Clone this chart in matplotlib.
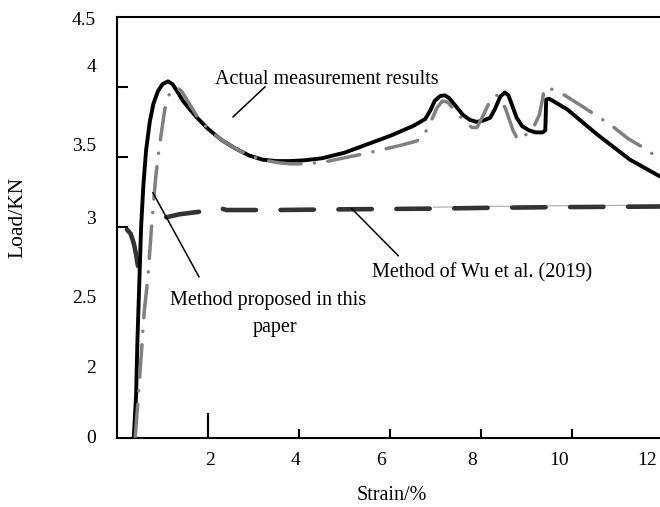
import matplotlib
matplotlib.use('Agg')
import matplotlib.pyplot as plt

plt.rcParams['font.family'] = ['Liberation Serif', 'DejaVu Serif']
plt.rcParams['lines.scale_dashes'] = False

# ---------------- data ----------------
actual_x = [0.37, 0.42, 0.45, 0.49, 0.53, 0.58, 0.64, 0.72, 0.80, 0.90, 1.00, 1.12, 1.22,
            1.32, 1.45, 1.60, 1.76, 2.00, 2.30, 2.60, 2.90, 3.20, 3.50, 3.80, 4.10, 4.50,
            5.00, 5.50, 6.00, 6.50, 6.77, 6.88, 6.98, 7.10, 7.20, 7.30, 7.45, 7.60, 7.75,
            7.90, 8.05, 8.20, 8.30, 8.42, 8.52, 8.60, 8.68, 8.78, 8.90, 9.05, 9.20, 9.35,
            9.41, 9.42, 9.43, 9.50, 9.89, 10.55, 11.27, 11.93]
actual_y = [1.50, 1.80, 2.20, 2.60, 3.00, 3.30, 3.55, 3.75, 3.88, 3.97, 4.02, 4.04, 4.02,
            3.97, 3.90, 3.84, 3.78, 3.70, 3.62, 3.56, 3.51, 3.48, 3.47, 3.47, 3.475, 3.49,
            3.53, 3.59, 3.65, 3.72, 3.77, 3.83, 3.90, 3.935, 3.94, 3.92, 3.86, 3.80, 3.765,
            3.75, 3.76, 3.78, 3.84, 3.93, 3.96, 3.94, 3.87, 3.78, 3.72, 3.69, 3.675, 3.675,
            3.69, 3.80, 3.91, 3.915, 3.84, 3.66, 3.48, 3.36]

proposed_x = [0.40, 0.46, 0.53, 0.60, 0.68, 0.77, 0.85, 0.92, 0.97, 1.05, 1.15, 1.25, 1.32,
              1.42, 1.55, 1.76, 2.00, 2.30, 2.60, 2.90, 3.20, 3.50, 3.80, 4.10, 4.50, 4.95,
              5.40, 5.80, 6.20, 6.55, 6.70, 6.85, 7.03, 7.15, 7.27, 7.45, 7.62, 7.80, 7.91,
              8.05, 8.24, 8.35, 8.53, 8.70, 8.81, 8.90, 9.12, 9.28, 9.36, 9.38, 9.50, 9.74,
              10.18, 10.84, 11.23, 11.65, 11.93]
proposed_y = [1.50, 1.75, 2.07, 2.40, 2.64, 3.05, 3.35, 3.55, 3.66, 3.84, 3.95, 3.99, 3.995,
              3.97, 3.90, 3.79, 3.70, 3.62, 3.56, 3.51, 3.48, 3.46, 3.45, 3.45, 3.46, 3.49,
              3.52, 3.55, 3.58, 3.61, 3.63, 3.72, 3.85, 3.90, 3.89, 3.82, 3.76, 3.71, 3.71,
              3.80, 3.93, 3.94, 3.85, 3.69, 3.62, 3.64, 3.69, 3.80, 3.93, 3.99, 3.99, 3.96,
              3.87, 3.73, 3.63, 3.55, 3.48]

wu_x = [0.22, 0.30, 0.37, 0.42, 0.46, 0.57, 1.38, 1.87, 2.22, 2.40, 3.50, 5.00, 6.95, 8.00,
        9.50, 11.93]
wu_y = [2.98, 2.95, 2.88, 2.80, 2.72, 3.03, 3.09, 3.11, 3.14, 3.12, 3.12, 3.125, 3.13, 3.135,
        3.14, 3.145]

xtick_values = [2, 4, 6, 8, 10, 12]
xtick_labels = ['2', '4', '6', '8', '10', '12']
ytick_values = [2.0, 2.5, 3.0, 3.5, 4.0]
ytick_labels = ['4.5', '4', '3.5', '3', '2.5', '2', '0']

# label placement (layout, matching the reference's offset labels)
xlabel_pos = [2.04, 3.93, 5.80, 7.80, 9.71, 11.65]
ylabel_pos = [4.49, 4.15, 3.586, 3.07, 2.50, 2.00, 1.50]

# ---------------- figure ----------------
fig = plt.figure(figsize=(6.6, 5.07), dpi=100)
ax = fig.add_axes([117 / 660, 69 / 507, 543 / 660, 421 / 507])
ax.set_xlim(0, 11.93)
ax.set_ylim(1.49, 4.5)

ax.plot(wu_x[:5], wu_y[:5], color='#333333', lw=3.3, solid_capstyle='round', zorder=2)
ax.plot(wu_x[5:], wu_y[5:], color='#333333', lw=3.3,
        linestyle=(24.5, (24.0, 17.7)), dash_capstyle='round', zorder=2)
thin = [i for i, v in enumerate(wu_x) if v >= 6.95]
ax.plot([wu_x[i] for i in thin], [wu_y[i] + 0.01 for i in thin], color='#aaaaaa', lw=0.8, zorder=1)

ax.plot(actual_x, actual_y, color='black', lw=2.8, solid_capstyle='round',
        solid_joinstyle='round', zorder=3)
ax.plot(proposed_x, proposed_y, color='#808080', lw=2.5,
        linestyle=(0, (23.4, 9.7, 0.1, 9.7)), dash_capstyle='round', zorder=4)

# spines & ticks
for s in ['left', 'bottom', 'top']:
    ax.spines[s].set_linewidth(1.5)
ax.spines['right'].set_visible(False)

ax.set_xticks(xlabel_pos)
ax.set_xticklabels(xtick_labels)
ax.set_xticks(xtick_values[1:-1], minor=True)
ax.set_yticks(ylabel_pos)
ax.set_yticklabels(ytick_labels)
ax.set_yticks(ytick_values, minor=True)
ax.tick_params(axis='x', which='major', length=0, pad=10, labelsize=14)
ax.tick_params(axis='y', which='major', length=0, pad=15, labelsize=14)
ax.tick_params(axis='x', which='minor', direction='in', length=6.5, width=1.5)
ax.tick_params(axis='y', which='minor', direction='in', length=8, width=1.5)
ax.axvline(xtick_values[0], ymin=0, ymax=24 / 421, color='black', lw=1.5)

fig.text(18 / 660, 1 - 217 / 507, 'Load/KN', rotation=90, ha='center', va='center', fontsize=15.5)
fig.text(392 / 660, 1 - 495 / 507, 'Strain/%', ha='center', va='center', fontsize=14.5)

# annotations
fs = 14.5
ax.text(2.15, 4.021, 'Actual measurement results', fontsize=fs, va='baseline', ha='left')
ax.plot([3.25, 2.55], [4.0, 3.786], color='black', lw=1.1, zorder=5)
ax.text(1.165, 2.443, 'Method proposed in this', fontsize=fs, va='baseline', ha='left')
ax.text(2.99, 2.25, 'paper', fontsize=fs, va='baseline', ha='left')
ax.plot([0.79, 1.80], [3.243, 2.643], color='black', lw=1.1, zorder=5)
ax.text(5.60, 2.636, 'Method of Wu et al. (2019)', fontsize=fs, va='baseline', ha='left')
ax.plot([5.16, 6.18], [3.129, 2.793], color='black', lw=1.1, zorder=5)

fig.savefig('out.png', dpi=100)
